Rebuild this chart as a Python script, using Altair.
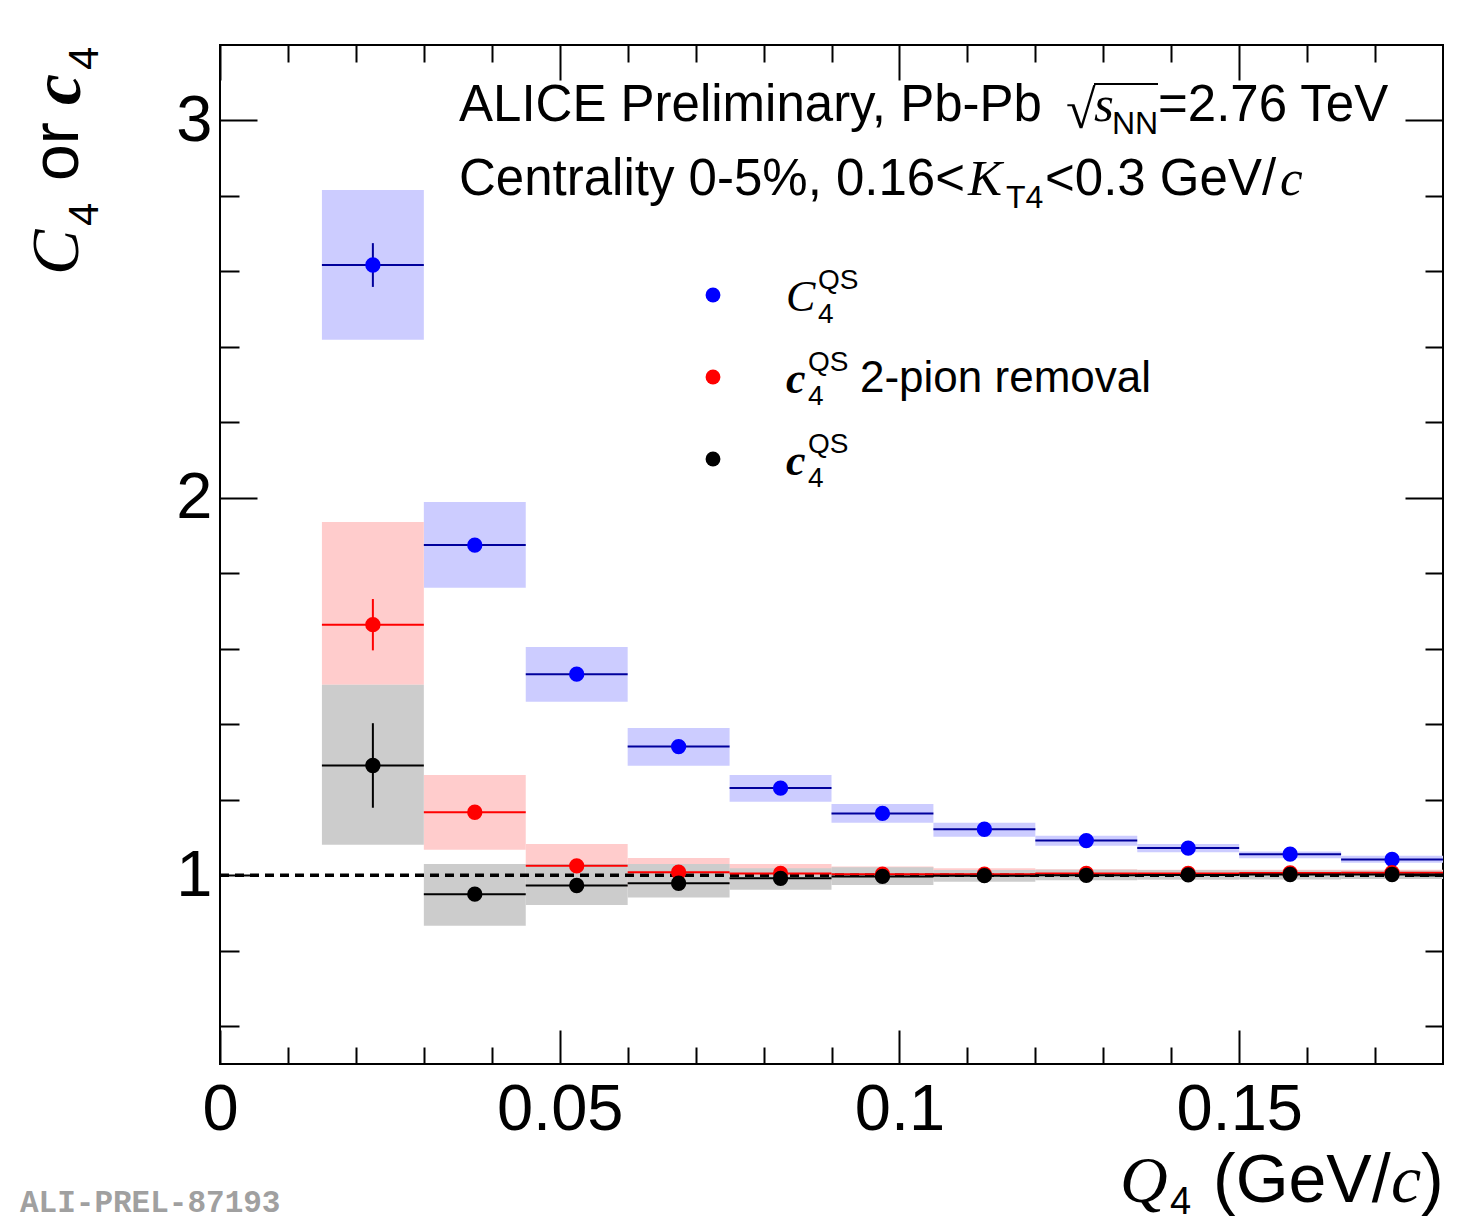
import altair as alt
import pandas as pd

# ---------------- data ----------------
q_low = [0.015, 0.030, 0.045, 0.060, 0.075, 0.090, 0.105, 0.120, 0.135, 0.150, 0.165]
q_high = [0.030, 0.045, 0.060, 0.075, 0.090, 0.105, 0.120, 0.135, 0.150, 0.165, 0.180]
q_center = [0.0225, 0.0375, 0.0525, 0.0675, 0.0825, 0.0975, 0.1125, 0.1275, 0.1425, 0.1575, 0.1725]

series_names = ["C4QS", "c4QS 2-pion removal", "c4QS"]

C4_val = [2.617, 1.875, 1.533, 1.341, 1.231, 1.164, 1.122, 1.092, 1.072, 1.056, 1.042]
C4_stat = [0.058, 0.008, 0.006, 0.005, 0.004, 0.003, 0.003, 0.002, 0.002, 0.002, 0.002]
C4_sys_lo = [2.419, 1.762, 1.460, 1.290, 1.195, 1.139, 1.102, 1.078, 1.061, 1.045, 1.033]
C4_sys_hi = [2.816, 1.989, 1.605, 1.390, 1.266, 1.189, 1.139, 1.105, 1.083, 1.063, 1.052]

c4r_val = [1.664, 1.167, 1.025, 1.008, 1.005, 1.003, 1.003, 1.005, 1.005, 1.006, 1.007]
c4r_stat = [0.068, 0.008, 0.005, 0.004, 0.003, 0.002, 0.002, 0.002, 0.002, 0.002, 0.002]
c4r_sys_lo = [1.505, 1.068, 0.967, 0.975, 0.985, 0.988, 0.990, 0.993, 0.993, 0.994, 0.995]
c4r_sys_hi = [1.936, 1.266, 1.083, 1.046, 1.030, 1.023, 1.019, 1.016, 1.015, 1.015, 1.015]

c4_val = [1.291, 0.950, 0.973, 0.979, 0.992, 0.997, 0.999, 1.000, 1.001, 1.002, 1.002]
c4_stat = [0.112, 0.008, 0.005, 0.004, 0.003, 0.002, 0.002, 0.002, 0.002, 0.002, 0.002]
c4_sys_lo = [1.081, 0.866, 0.921, 0.941, 0.962, 0.974, 0.983, 0.987, 0.988, 0.989, 0.990]
c4_sys_hi = [1.505, 1.030, 1.030, 1.030, 1.019, 1.021, 1.014, 1.015, 1.014, 1.013, 1.012]

x_major = [0, 0.05, 0.1, 0.15]
x_minor = [0.01, 0.02, 0.03, 0.04, 0.06, 0.07, 0.08, 0.09, 0.11, 0.12, 0.13, 0.14, 0.16, 0.17]
y_major = [1, 2, 3]
y_minor = [0.6, 0.8, 1.2, 1.4, 1.6, 1.8, 2.2, 2.4, 2.6, 2.8]
ref_q = [0.0, 0.18]
ref_v = [1.0, 1.0]

# ---------------- tables ----------------
rows = []
for name, vals, st, lo, hi in [
    (series_names[0], C4_val, C4_stat, C4_sys_lo, C4_sys_hi),
    (series_names[1], c4r_val, c4r_stat, c4r_sys_lo, c4r_sys_hi),
    (series_names[2], c4_val, c4_stat, c4_sys_lo, c4_sys_hi),
]:
    for i in range(len(q_center)):
        rows.append(dict(series=name, q=q_center[i], qlo=q_low[i], qhi=q_high[i],
                         v=vals[i], elo=vals[i] - st[i], ehi=vals[i] + st[i],
                         slo=lo[i], shi=hi[i]))
df = pd.DataFrame(rows)
ref_df = pd.DataFrame({"q": ref_q, "v": ref_v})

W, H = 1223, 1019
PX0, PY0 = 220, 45  # page position of plot origin

xs = alt.Scale(domain=[0, 0.18], nice=False, zero=False)
ys = alt.Scale(domain=[0.5, 3.2], nice=False, zero=False)

box_col = alt.Scale(domain=series_names, range=["#ccccff", "#ffcccc", "#cccccc"])
bar_col = alt.Scale(domain=series_names, range=["#00009c", "#ff0000", "#000000"])
pt_col = alt.Scale(domain=series_names, range=["#0000ff", "#ff0000", "#000000"])

SANS = "Liberation Sans"
SERIF = "Liberation Serif"


def tick_axis(orient, values, size):
    return alt.Axis(orient=orient, values=values, offset=-size, tickSize=size, tickWidth=2,
                    tickColor="black", labels=False, domain=False, grid=False, title=None,
                    zindex=2)


x_lab = alt.Axis(orient="bottom", values=x_major, format="~g", ticks=False, tickSize=0,
                 domain=False, grid=False, title=None, labelFont=SANS, labelFontSize=65,
                 labelPadding=14, labelColor="black", labelFlush=False, labelOverlap=False)
y_lab = alt.Axis(orient="left", values=y_major, format="d", ticks=False, tickSize=0,
                 domain=False, grid=False, title=None, labelFont=SANS, labelFontSize=65,
                 labelPadding=8, labelColor="black", labelOverlap=False)

boxes = alt.Chart(df).mark_rect(opacity=1).encode(
    x=alt.X("qlo:Q", scale=xs, axis=x_lab),
    x2="qhi:Q",
    y=alt.Y("slo:Q", scale=ys, axis=y_lab),
    y2="shi:Q",
    color=alt.Color("series:N", scale=box_col, legend=None),
)

dashed = alt.Chart(ref_df).mark_line(color="black", strokeWidth=3.5, strokeDash=[9, 6]).encode(
    x=alt.X("q:Q", scale=xs, axis=tick_axis("top", x_minor, 17)),
    y=alt.Y("v:Q", scale=ys, axis=tick_axis("right", y_minor, 18)),
)

hbars = alt.Chart(df).mark_rule(strokeWidth=2).encode(
    x=alt.X("qlo:Q", scale=xs, axis=tick_axis("bottom", x_major, 34)),
    x2="qhi:Q",
    y=alt.Y("v:Q", scale=ys, axis=tick_axis("left", y_major, 37)),
    color=alt.Color("series:N", scale=bar_col, legend=None),
)

vbars = alt.Chart(df).mark_rule(strokeWidth=2).encode(
    x=alt.X("q:Q", scale=xs, axis=tick_axis("bottom", x_minor, 17)),
    y=alt.Y("elo:Q", scale=ys, axis=tick_axis("left", y_minor, 19)),
    y2="ehi:Q",
    color=alt.Color("series:N", scale=bar_col, legend=None),
)

points = alt.Chart(df).mark_circle(size=235, opacity=1).encode(
    x=alt.X("q:Q", scale=xs, axis=tick_axis("top", x_major, 35)),
    y=alt.Y("v:Q", scale=ys, axis=tick_axis("right", y_major, 38)),
    color=alt.Color("series:N", scale=pt_col, legend=None),
)


def txt(s, X, Y, size, font=SANS, style="normal", weight="normal", angle=0, color="black"):
    return alt.Chart(pd.DataFrame({"t": [s]})).mark_text(
        font=font, fontSize=size, fontStyle=style, fontWeight=weight, angle=angle,
        color=color, align="left", baseline="alphabetic"
    ).encode(x=alt.value(X - PX0), y=alt.value(Y - PY0), text="t:N")


texts = [
    # header lines
    txt("ALICE Preliminary, Pb-Pb", 459, 121, 51),
    txt("\u221a", 1066, 128, 54, font=SERIF),
    txt("s", 1094, 121, 51, font=SERIF, style="italic"),
    txt("NN", 1112, 134, 32),
    txt("=2.76 TeV", 1158, 121, 51),
    txt("Centrality 0-5%, 0.16<", 459, 195, 51),
    txt("K", 968, 195, 51, font=SERIF, style="italic"),
    txt("T4", 1006, 208, 32),
    txt("<0.3 GeV/", 1045, 195, 51),
    txt("c", 1280, 195, 51, font=SERIF, style="italic"),
    # legend
    txt("C", 786, 311, 44, font=SERIF, style="italic"),
    txt("QS", 818, 289, 28),
    txt("4", 818, 323, 28),
    txt("c", 786, 393, 44, font=SERIF, style="italic", weight="bold"),
    txt("QS", 808, 371, 28),
    txt("4", 808, 405, 28),
    txt("2-pion removal", 860, 392, 44),
    txt("c", 786, 475, 44, font=SERIF, style="italic", weight="bold"),
    txt("QS", 808, 453, 28),
    txt("4", 808, 487, 28),
    # y title (rotated)
    txt("C", 78, 275, 68, font=SERIF, style="italic", angle=270),
    txt("4", 98, 226, 42, angle=270),
    txt("or", 78, 181, 66, angle=270),
    txt("c", 80, 105, 70, font=SERIF, style="italic", weight="bold", angle=270),
    txt("4", 98, 70, 42, angle=270),
    # x title
    txt("Q", 1120, 1202, 66, font=SERIF, style="italic"),
    txt("4", 1170, 1214, 38),
    txt("(GeV/", 1213, 1202, 68),
    txt("c", 1391, 1202, 68, font=SERIF, style="italic"),
    txt(")", 1421, 1202, 68),
    # watermark
    txt("ALI-PREL-87193", 20, 1212, 31, font="Liberation Mono", weight="bold", color="#a0a0a0"),
]

overline = alt.Chart(pd.DataFrame({"a": [0]})).mark_rule(color="black", strokeWidth=2).encode(
    x=alt.value(1094 - PX0), x2=alt.value(1158 - PX0), y=alt.value(84 - PY0)
)

legend_marks = []
for name, ly in zip(series_names, [295, 377, 459]):
    legend_marks.append(
        alt.Chart(pd.DataFrame({"series": [name]})).mark_circle(size=220, opacity=1).encode(
            x=alt.value(713 - PX0), y=alt.value(ly - PY0),
            color=alt.Color("series:N", scale=pt_col, legend=None),
        )
    )

chart = alt.layer(
    boxes, dashed, hbars, vbars, points, overline, *legend_marks, *texts
).properties(
    width=W, height=H,
    padding={"left": 212, "top": 37, "right": 28, "bottom": 158},
    autosize=alt.AutoSizeParams(type="none"),
    background="white",
).resolve_axis(
    x="independent", y="independent"
).resolve_scale(
    color="independent"
).configure_view(
    stroke="black", strokeWidth=2
)

chart.save("out.html", embed_options={"renderer": "svg", "actions": False})
